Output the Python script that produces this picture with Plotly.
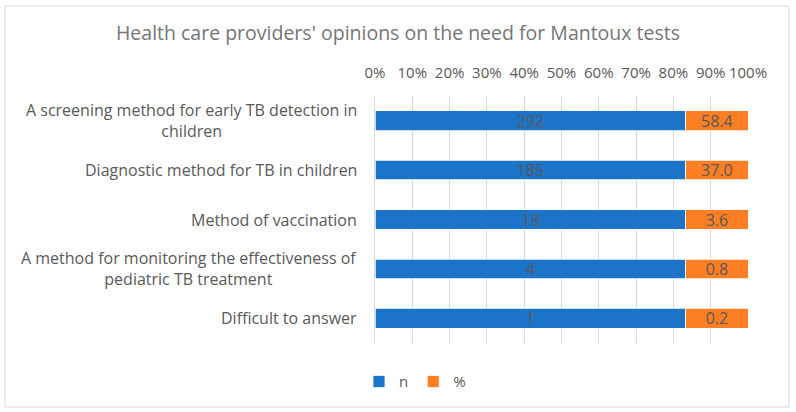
import plotly.graph_objects as go

categories = [
    "A screening method for early TB detection in<br>children",
    "Diagnostic method for TB in children",
    "Method of vaccination",
    "A method for monitoring the effectiveness of<br>pediatric TB treatment",
    "Difficult to answer",
]
n_values = [292, 185, 18, 4, 1]
pct_values = [58.4, 37.0, 3.6, 0.8, 0.2]
pct_labels = ["58.4", "37.0", "3.6", "0.8", "0.2"]
x_ticks = [0, 10, 20, 30, 40, 50, 60, 70, 80, 90, 100]

W, H = 796, 412
ML, MR, MT, MB = 375, 48, 96, 69
FONT = "Open Sans, sans-serif"
GRAY = "#595959"
BLUE = "#1C74C8"
ORANGE = "#FD7E23"

fig = go.Figure()
fig.add_trace(go.Bar(
    y=categories, x=n_values, orientation="h", name="n",
    marker=dict(color=BLUE, line=dict(color="white", width=0.75)),
    text=[str(v) for v in n_values], textposition="inside",
    insidetextanchor="middle", textangle=0, constraintext="none",
    textfont=dict(color=GRAY, size=16, family=FONT),
    hoverinfo="skip",
))
fig.add_trace(go.Bar(
    y=categories, x=pct_values, orientation="h", name="%",
    marker=dict(color=ORANGE, line=dict(color="white", width=0.75)),
    text=pct_labels, textposition="inside",
    insidetextanchor="middle", textangle=0, constraintext="none",
    textfont=dict(color=GRAY, size=16, family=FONT),
    hoverinfo="skip",
))

# category labels as centred multi-line annotations
for c in categories:
    fig.add_annotation(
        x=0, xref="paper", y=c, yref="y", text=c, showarrow=False,
        xanchor="right", xshift=-16, align="center",
        font=dict(size=16, color=GRAY, family=FONT),
    )

# outer chart border
pw, ph = W - ML - MR, H - MT - MB
fig.add_shape(
    type="rect", xref="paper", yref="paper",
    x0=(5 - ML) / pw, x1=(789 - ML) / pw,
    y0=(H - MB - 407) / ph, y1=(H - MB - 6) / ph,
    line=dict(color="#D9D9D9", width=1), fillcolor="rgba(0,0,0,0)", layer="below",
)

fig.update_layout(
    width=W, height=H,
    margin=dict(l=ML, r=MR, t=MT, b=MB),
    barmode="stack", barnorm="percent", bargap=0.6,
    paper_bgcolor="white", plot_bgcolor="white",
    font=dict(family=FONT, color=GRAY, size=15),
    title=dict(
        text="Health care providers' opinions on the need for Mantoux tests",
        x=0.5, xref="container", xanchor="center",
        y=1 - 33 / H, yanchor="middle",
        font=dict(size=19.5, color="#757575", family=FONT),
    ),
    xaxis=dict(
        side="top", range=[0, 100], tickvals=x_ticks,
        ticktext=[f"{v}%" for v in x_ticks],
        showgrid=True, gridcolor="#D9D9D9", gridwidth=1,
        zeroline=False, showline=False, ticks="",
        tickfont=dict(size=15, color=GRAY, family=FONT),
        ticklabelstandoff=14,
        fixedrange=True,
    ),
    yaxis=dict(
        categoryorder="array", categoryarray=categories,
        autorange="reversed", showticklabels=False, ticks="",
        showgrid=False, zeroline=False,
        showline=True, linecolor="#D9D9D9", linewidth=1,
        fixedrange=True,
    ),
    legend=dict(
        orientation="h", x=-16 / pw, xanchor="left", y=-0.09, yanchor="top",
        font=dict(size=15, color=GRAY, family=FONT),
        itemwidth=30, traceorder="normal",
    ),
    showlegend=True,
)

fig.write_html("out.html")
